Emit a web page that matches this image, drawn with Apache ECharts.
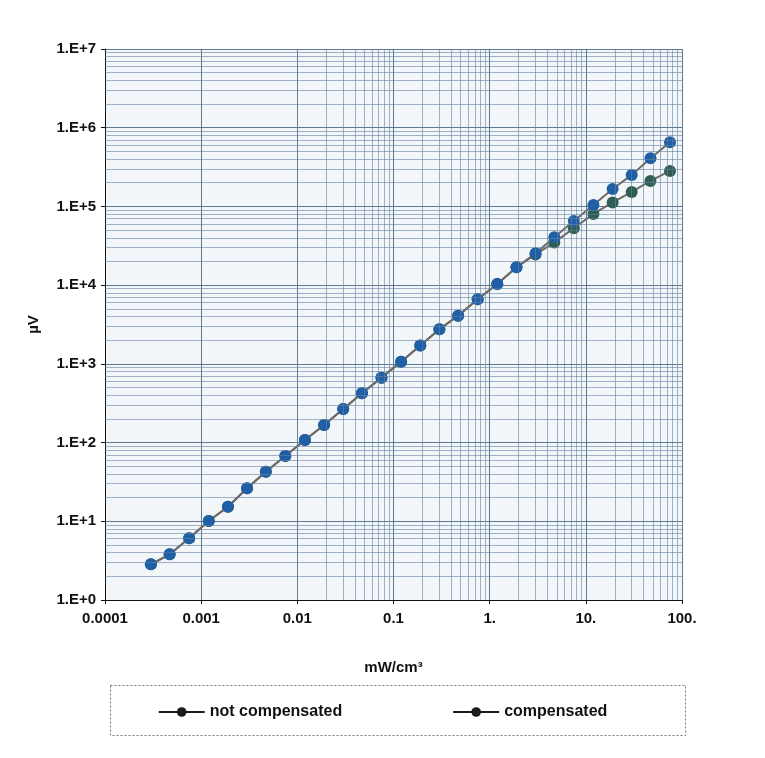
<!DOCTYPE html>
<html><head><meta charset="utf-8">
<script src="https://cdn.jsdelivr.net/npm/echarts@6/dist/echarts.min.js"></script>
<style>html,body{margin:0;padding:0;background:#fff}#c{width:765px;height:758px}</style>
</head><body><div id="c"></div>
<script>
// Power density (mW/cm^3)
const power = [0.0003, 0.00047, 0.00075, 0.0012, 0.0019, 0.003, 0.0047, 0.0075, 0.012, 0.019,
  0.03, 0.047, 0.075, 0.12, 0.19, 0.3, 0.47, 0.75, 1.2, 1.9,
  3, 4.7, 7.5, 12, 19, 30, 47, 75];
// Signal (µV)
const notCompensated = [2.84, 3.81, 6.08, 10.1, 15.3, 26.3, 42.7, 67.6, 108, 167,
  267, 423, 668, 1067, 1714, 2754, 4096, 6620, 10360, 16870,
  24500, 34900, 52800, 80300, 112400, 152800, 211000, 282600];
const compensated = [2.84, 3.81, 6.08, 10.1, 15.3, 26.3, 42.7, 67.6, 108, 167,
  267, 423, 668, 1067, 1714, 2754, 4096, 6620, 10360, 16870,
  25430, 40600, 65400, 104500, 166800, 251300, 409700, 654500];
const xTickLabels = ['0.0001', '0.001', '0.01', '0.1', '1.', '10.', '100.'];
const yTickLabels = ['1.E+0', '1.E+1', '1.E+2', '1.E+3', '1.E+4', '1.E+5', '1.E+6', '1.E+7'];
const seriesNames = ['not compensated', 'compensated'];

const xMin = 0.0001, xMax = 100, yMin = 1, yMax = 1e7;
const minorX = [], minorY = [];
for (let d = xMin; d < xMax * 0.99; d *= 10) for (let m = 2; m <= 9; m++) minorX.push({ xAxis: +(d * m).toPrecision(3) });
for (let d = yMin; d < yMax * 0.99; d *= 10) for (let m = 2; m <= 9; m++) minorY.push({ yAxis: +(d * m).toPrecision(3) });

const font = 'Liberation Sans, Arial, sans-serif';
const chart = echarts.init(document.getElementById('c'), null, { renderer: 'canvas' });
chart.setOption({
  animation: false,
  backgroundColor: '#fff',
  grid: { left: 105, right: 83, top: 49, bottom: 158, containLabel: false,
    show: true, backgroundColor: '#f3f6f9', borderWidth: 0 },
  xAxis: {
    type: 'log', logBase: 10, min: xMin, max: xMax, splitNumber: 6,
    name: 'mW/cm³', nameLocation: 'middle', nameGap: 60,
    nameTextStyle: { fontFamily: font, fontWeight: 'bold', fontSize: 15, color: '#111' },
    axisLine: { lineStyle: { color: '#111', width: 1 } },
    axisTick: { show: true, length: 4, lineStyle: { color: '#111' } },
    axisLabel: { fontFamily: font, fontWeight: 'bold', fontSize: 15, color: '#111', margin: 11,
      formatter: v => xTickLabels[Math.round(Math.log10(v) + 4)] },
    splitLine: { show: true, lineStyle: { color: 'rgba(70,100,130,0.85)', width: 1 } }
  },
  yAxis: {
    type: 'log', logBase: 10, min: yMin, max: yMax, splitNumber: 7,
    name: 'µV', nameLocation: 'middle', nameGap: 64, nameRotate: 90,
    nameTextStyle: { fontFamily: font, fontWeight: 'bold', fontSize: 15, color: '#111' },
    axisLine: { show: true, lineStyle: { color: '#111', width: 1 } },
    axisTick: { show: true, length: 4, lineStyle: { color: '#111' } },
    axisLabel: { fontFamily: font, fontWeight: 'bold', fontSize: 15, color: '#111', margin: 9,
      formatter: v => yTickLabels[Math.round(Math.log10(v))] },
    splitLine: { show: true, lineStyle: { color: 'rgba(70,100,130,0.85)', width: 1 } }
  },
  legend: {
    top: 699, left: 'center', itemGap: 110, itemWidth: 46, itemHeight: 12,
    textStyle: { fontFamily: font, fontWeight: 'bold', fontSize: 16, color: '#111' },
    data: seriesNames.map(n => ({ name: n, itemStyle: { color: '#1a1a1a', borderWidth: 0 }, lineStyle: { color: '#1a1a1a', width: 2 } }))
  },
  graphic: [
    { type: 'rect', left: 108, top: 683, shape: { width: 575, height: 50 },
      style: { fill: 'none', stroke: '#777', lineWidth: 1, lineDash: [2, 2] } }
  ],
  series: [
    {
      name: seriesNames[0], type: 'line', z: 3,
      data: power.map((x, i) => [x, notCompensated[i]]),
      symbol: 'circle', symbolSize: 12,
      itemStyle: { color: '#2f5e52' },
      lineStyle: { color: '#6d6a66', width: 2 },
      markLine: {
        silent: true, symbol: ['none', 'none'], label: { show: false }, animation: false,
        lineStyle: { color: 'rgba(100,130,160,0.6)', width: 1, type: 'solid' },
        emphasis: { disabled: true },
        data: minorX.concat(minorY)
      }
    },
    {
      name: seriesNames[1], type: 'line', z: 4,
      data: power.map((x, i) => [x, compensated[i]]),
      symbol: 'circle', symbolSize: 12,
      itemStyle: { color: '#1e5fa6' },
      lineStyle: { color: '#6d6a66', width: 2 }
    }
  ]
});
</script></body></html>
